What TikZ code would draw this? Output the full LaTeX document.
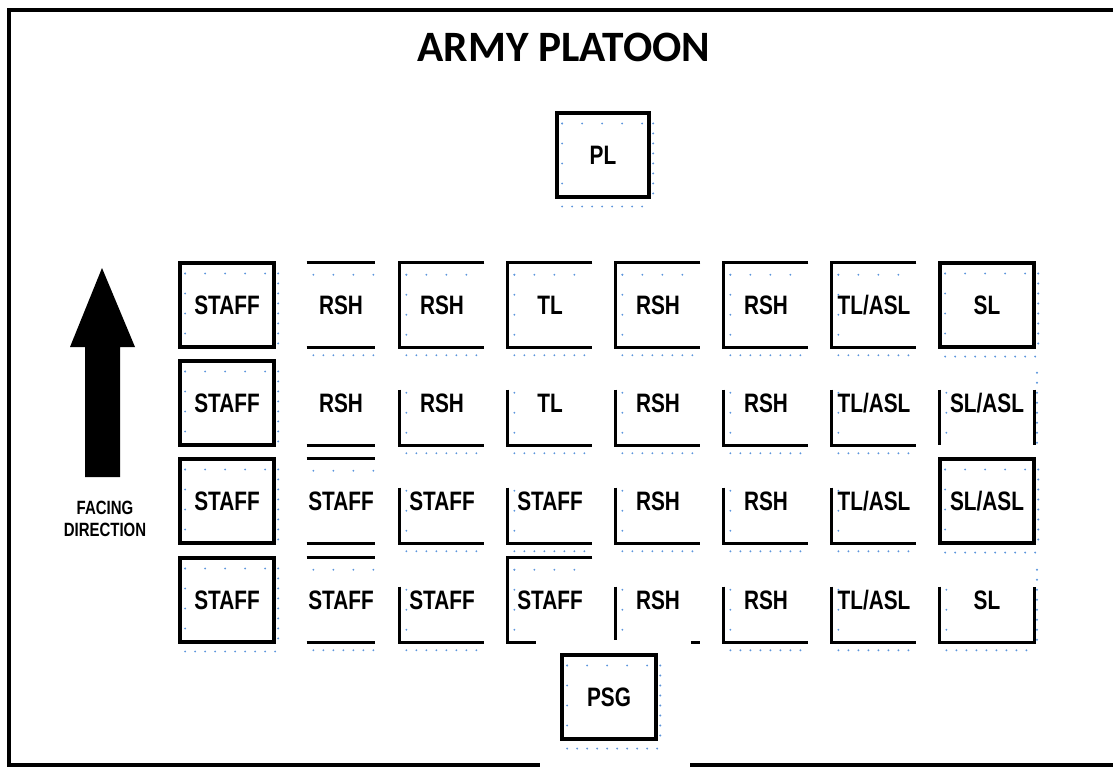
\documentclass[tikz,border=0pt]{standalone}
\usepackage{fontspec}
\newfontfamily\lblfont[FakeStretch=0.78]{Liberation Sans Bold}
\newfontfamily\titlefont{Carlito}
\definecolor{guideblue}{HTML}{5B95DC}

\begin{document}
\begin{tikzpicture}[
  x=0.75pt, y=-0.75pt,
  frame/.style={line width=2.6pt},
  side/.style={line width=2.3pt},
  cell/.style={minimum width=63pt, minimum height=63pt, inner sep=0pt,
    font=\lblfont\fontsize{20}{22}\selectfont},
  wide/.style={cell, minimum width=70.5pt},
  narrow/.style={cell, minimum width=51pt},
  fullbox/.style={wide, draw, line width=2.3pt},
  guide/.style={draw=guideblue, line width=1.6pt, line cap=round, dash pattern=on 0pt off 15pt},
  guidedense/.style={guide, dash pattern=on 0pt off 7.5pt}
]
\useasboundingbox (0,0) rectangle (1113,767);

% Frame
\draw[frame] (1113,10) -- (9,10) -- (9,765) -- (540,765);
\draw[frame] (690,765) -- (1113,765);

% Title
\node[font=\titlefont\bfseries\fontsize{32.5}{34}\selectfont] (title) at (564,47) {ARMY PLATOON};

% Leaders
\node[fullbox, minimum width=69pt] (pl) at (603,155) {PL};
\node[fullbox] (psg) at (609,697) {PSG};

% Facing direction
\fill (102,268) -- (135,347) -- (120,347) -- (120,477) -- (85,477) -- (85,347) -- (70,347) -- cycle;
\node[font=\lblfont\fontsize{14.4}{16.5}\selectfont, align=center] (facing) at (105,519) {FACING\\DIRECTION};

% Row 1
\node[fullbox] (s11) at (227,305) {STAFF};
\node[narrow] (s12) at (341,305) {RSH};
\node[cell] (s13) at (442,305) {RSH};
\node[cell] (s14) at (550,305) {TL};
\node[cell] (s15) at (658,305) {RSH};
\node[cell] (s16) at (766,305) {RSH};
\node[cell] (s17) at (874,305) {TL/ASL};
\node[fullbox] (s18) at (987,305) {SL};

% Row 2
\node[fullbox] (s21) at (227,403) {STAFF};
\node[narrow] (s22) at (341,403) {RSH};
\node[cell] (s23) at (442,403) {RSH};
\node[cell] (s24) at (550,403) {TL};
\node[cell] (s25) at (658,403) {RSH};
\node[cell] (s26) at (766,403) {RSH};
\node[cell] (s27) at (874,403) {TL/ASL};
\node[wide] (s28) at (987,403) {SL/ASL};

% Row 3
\node[fullbox] (s31) at (227,501) {STAFF};
\node[narrow] (s32) at (341,501) {STAFF};
\node[cell] (s33) at (442,501) {STAFF};
\node[cell] (s34) at (550,501) {STAFF};
\node[cell] (s35) at (658,501) {RSH};
\node[cell] (s36) at (766,501) {RSH};
\node[cell] (s37) at (874,501) {TL/ASL};
\node[fullbox] (s38) at (987,501) {SL/ASL};

% Row 4
\node[fullbox] (s41) at (227,600) {STAFF};
\node[narrow] (s42) at (341,600) {STAFF};
\node[cell] (s43) at (442,600) {STAFF};
\node[cell] (s44) at (550,600) {STAFF};
\node[cell] (s45) at (658,600) {RSH};
\node[cell] (s46) at (766,600) {RSH};
\node[cell] (s47) at (874,600) {TL/ASL};
\node[wide] (s48) at (987,600) {SL};

% Guide dots
\foreach \n in {pl,psg,s11,s12,s13,s14,s15,s16,s17,s18,s21,s31,s32,s38,s41,s42,s44}
  \draw[guide] ([xshift=5pt,yshift=-9pt]\n.north west) -- ([yshift=-9pt]\n.north east);
\foreach \n in {pl,psg,s11,s13,s14,s15,s16,s17,s18,s21,s31,s38,s41,s44}
  \draw[guide] ([xshift=5pt,yshift=-9pt]\n.north west) -- ([xshift=5pt]\n.south west);
\foreach \n in {s23,s24,s25,s26,s27,s28,s33,s34,s35,s36,s37,s43,s45,s46,s47,s48}
  \draw[guide] ([xshift=5pt,yshift=-24pt]\n.north west) -- ([xshift=5pt]\n.south west);
\foreach \n in {pl,psg,s11,s21,s31,s41,s18,s28,s38,s48}
  \draw[guidedense] ([xshift=2pt,yshift=-9pt]\n.north east) -- ([xshift=2pt]\n.south east);
\foreach \n in {pl,psg,s12,s13,s14,s15,s16,s17,s18,s23,s24,s25,s26,s27,s33,s34,s35,s36,s37,s38,s41,s42,s43,s46,s47,s48}
  \draw[guidedense] ([xshift=5pt,yshift=-6pt]\n.south west) -- ([yshift=-6pt]\n.south east);

% Open sides
\foreach \n in {s12,s32,s42}
  \draw[side] (\n.north west) -- (\n.north east) (\n.south west) -- (\n.south east);
\draw[side] (s22.south west) -- (s22.south east);

\foreach \n in {s13,s14,s15,s16,s17}
  \draw[side] (\n.north east) -- (\n.north west) -- (\n.south west) -- (\n.south east);

\foreach \n in {s23,s24,s25,s26,s27,s33,s34,s35,s36,s37,s43,s46,s47}
  \draw[side] ([yshift=-21.75pt]\n.north west) -- (\n.south west) -- (\n.south east);

\draw[side] (s44.north east) -- (s44.north west) -- (s44.south west) -- ([xshift=21pt]s44.south west);
\draw[side] ([yshift=-21.75pt]s45.north west) -- ([yshift=2pt]s45.south west);
\draw[side] ([xshift=-7pt]s45.south east) -- (s45.south east);
\draw[side] ([yshift=-21.75pt]s28.north west) -- (s28.south west)
  ([yshift=-21.75pt]s28.north east) -- (s28.south east);
\draw[side] ([yshift=-21.75pt]s48.north west) -- (s48.south west) -- (s48.south east)
  -- ([yshift=-21.75pt]s48.north east);

\end{tikzpicture}
\end{document}
